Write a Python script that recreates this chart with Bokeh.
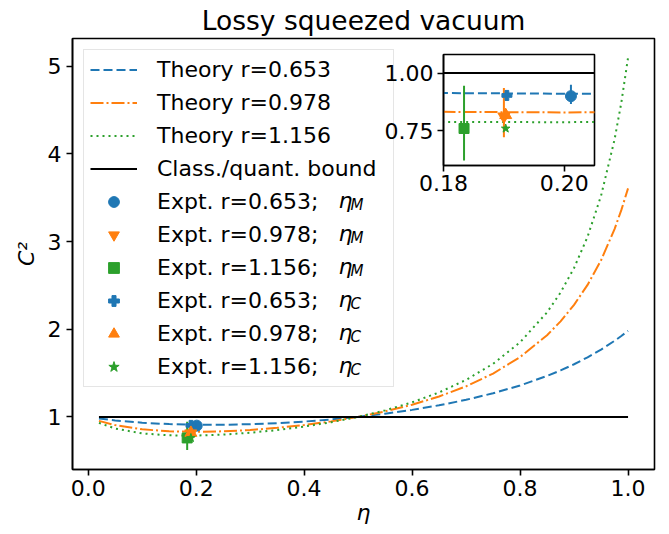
from bokeh.plotting import figure
from bokeh.models import (Legend, LegendItem, Label, FixedTicker, GridBox,
                          PrintfTickFormatter)
from bokeh.embed import file_html
from bokeh.resources import INLINE

# ---------------- data ----------------
eta = [0.02, 0.05, 0.10, 0.15, 0.20, 0.25, 0.30, 0.35, 0.40, 0.45, 0.50,
       0.55, 0.60, 0.65, 0.70, 0.75, 0.80, 0.85, 0.875, 0.90, 0.925, 0.95,
       0.975, 0.9875, 1.0]
theory_r0653 = [0.9819, 0.9596, 0.9333, 0.9176, 0.9104, 0.9103, 0.9166, 0.9288,
                0.9466, 0.9703, 1.0000, 1.0363, 1.0800, 1.1323, 1.1946, 1.2690,
                1.3584, 1.4670, 1.5301, 1.6004, 1.6790, 1.7674, 1.8673, 1.9223,
                1.9812]
theory_r0978 = [0.9546, 0.9060, 0.8581, 0.8356, 0.8295, 0.8353, 0.8507, 0.8748,
                0.9074, 0.9488, 1.0000, 1.0626, 1.1389, 1.2325, 1.3484, 1.4943,
                1.6821, 1.9316, 2.0893, 2.2773, 2.5049, 2.7861, 3.1419, 3.3576,
                3.6062]
theory_r1156 = [0.9322, 0.8673, 0.8114, 0.7896, 0.7873, 0.7981, 0.8193, 0.8498,
                0.8895, 0.9391, 1.0000, 1.0744, 1.1657, 1.2789, 1.4216, 1.6057,
                1.8509, 2.1922, 2.4179, 2.6977, 3.0537, 3.5214, 4.1630, 4.5822,
                5.0968]
bound_eta = [0.02, 1.0]
bound_C2 = [1.0, 1.0]

r_labels = ["0.653", "0.978", "1.156"]

# experimental points, efficiency eta_M
expt_eta_M = [0.2011, 0.1900, 0.1834]
expt_C2_M = [0.900, 0.812, 0.760]
expt_lo_M = [0.866, 0.722, 0.622]
expt_hi_M = [0.949, 0.935, 0.945]
# experimental points, efficiency eta_C
expt_eta_C = [0.1905, 0.1903, 0.1903]
expt_C2_C = [0.903, 0.818, 0.760]

x_ticks = [0.0, 0.2, 0.4, 0.6, 0.8, 1.0]
y_ticks = [1, 2, 3, 4, 5]
inset_x_ticks = [0.18, 0.20]
inset_y_ticks = [0.75, 1.00]

# ---------------- styles ----------------
FONT = "DejaVu Sans"
colors = ["#1f77b4", "#ff7f0e", "#2ca02c"]
dashes = ["9 4", "13 3 2 3", "2 4"]
theory = [theory_r0653, theory_r0978, theory_r1156]
markers_M = ["circle", "inverted_triangle", "square"]
sizes_M = [11, 12, 10]
markers_C = ["plus", "triangle", "star"]
sizes_C = [10, 12, 9]


def style(fig, tick_standoff):
    fig.xgrid.visible = False
    fig.ygrid.visible = False
    fig.outline_line_color = "black"
    fig.outline_line_width = 1.6
    fig.outline_line_alpha = 1.0
    for ax in fig.axis:
        ax.axis_line_color = "black"
        ax.axis_line_width = 1.6
        ax.major_tick_line_color = "black"
        ax.major_tick_line_width = 1.6
        ax.major_tick_out = 6
        ax.major_tick_in = 0
        ax.minor_tick_line_color = None
        ax.major_label_text_font = FONT
        ax.major_label_text_font_size = "22px"
        ax.major_label_text_color = "black"
        ax.major_label_standoff = tick_standoff
        ax.axis_label_text_color = "black"


def draw(fig):
    lines = []
    for vals, c, d in zip(theory, colors, dashes):
        lines.append(fig.line(eta, vals, line_color=c, line_width=2, line_dash=d))
    bound = fig.line(bound_eta, bound_C2, line_color="black", line_width=2)
    fig.segment(x0=expt_eta_M, y0=expt_lo_M, x1=expt_eta_M, y1=expt_hi_M,
                line_color=colors, line_width=2)
    sm, sc = [], []
    for i in range(3):
        sm.append(fig.scatter([expt_eta_M[i]], [expt_C2_M[i]], marker=markers_M[i],
                              size=sizes_M[i], fill_color=colors[i], line_color=colors[i]))
    for i in range(3):
        sc.append(fig.scatter([expt_eta_C[i]], [expt_C2_C[i]], marker=markers_C[i],
                              size=sizes_C[i], fill_color=colors[i], line_color=colors[i]))
    return lines, bound, sm, sc


# ---------------- main figure ----------------
W, H = 669, 534
MB_L, MB_R, MB_T, MB_B = 72, 15, 37, 65
p = figure(width=W, height=H, x_range=(-0.029, 1.049), y_range=(0.40, 5.315),
           output_backend="svg", toolbar_location=None,
           min_border_left=MB_L, min_border_right=MB_R,
           min_border_top=MB_T, min_border_bottom=MB_B,
           background_fill_color="white", border_fill_color="white",
           title="Lossy squeezed vacuum")
p.title.text_font = FONT
p.title.text_font_size = "26.5px"
p.title.text_font_style = "normal"
p.title.text_color = "black"
p.title.align = "center"
p.title.standoff = 5
style(p, 4)
p.xaxis.ticker = FixedTicker(ticks=x_ticks)
p.xaxis.formatter = PrintfTickFormatter(format="%.1f")
p.yaxis.ticker = FixedTicker(ticks=y_ticks)
p.yaxis.major_label_standoff = 5
p.xaxis.axis_label = "η"
p.xaxis.axis_label_text_font = FONT
p.xaxis.axis_label_text_font_size = "22px"
p.xaxis.axis_label_text_font_style = "italic"
p.xaxis.axis_label_standoff = 1
p.yaxis.axis_label = "C²"
p.yaxis.axis_label_text_font = FONT
p.yaxis.axis_label_text_font_size = "22px"
p.yaxis.axis_label_text_font_style = "italic"
p.yaxis.axis_label_standoff = 6

lines, bound, sm, sc = draw(p)

items = []
for i in range(3):
    items.append(LegendItem(label="Theory r=" + r_labels[i], renderers=[lines[i]]))
items.append(LegendItem(label="Class./quant. bound", renderers=[bound]))
for i in range(3):
    items.append(LegendItem(label="Expt. r=" + r_labels[i] + ";", renderers=[sm[i]]))
for i in range(3):
    items.append(LegendItem(label="Expt. r=" + r_labels[i] + ";", renderers=[sc[i]]))

LG_MARGIN, LG_PAD, ROW_H, LG_SP = 11, 6, 27, 6
legend = Legend(items=items, location="top_left", margin=LG_MARGIN, padding=LG_PAD,
                spacing=LG_SP, glyph_width=47, glyph_height=ROW_H, label_height=ROW_H,
                label_width=230, label_standoff=20,
                label_text_font=FONT, label_text_font_size="22px",
                label_text_color="black",
                border_line_color="#cccccc", border_line_width=1,
                background_fill_color="white", background_fill_alpha=0.0)
p.add_layout(legend)

frame_h = H - MB_T - MB_B

# math part of the experimental legend labels: eta with subscript
subs = ["M", "M", "M", "C", "C", "C"]
for k, s in enumerate(subs):
    row = 4 + k
    yc = frame_h - (LG_MARGIN + LG_PAD + ROW_H / 2 + row * (ROW_H + LG_SP))
    p.add_layout(Label(x=266, y=yc, x_units="screen", y_units="screen", text="η",
                       text_font=FONT, text_font_size="22px", text_font_style="italic",
                       text_baseline="middle", text_align="left", text_color="black",
                       level="overlay"))
    p.add_layout(Label(x=278, y=yc - 5, x_units="screen", y_units="screen", text=s,
                       text_font=FONT, text_font_size="15px", text_font_style="italic",
                       text_baseline="middle", text_align="left", text_color="black",
                       level="overlay"))

# ---------------- inset ----------------
IB_L, IB_R, IB_T, IB_B = 66, 8, 10, 42
IW, IH = IB_L + 151 + IB_R, IB_T + 111 + IB_B
inset = figure(width=IW, height=IH,
               x_range=(0.18, 0.205), y_range=(0.6, 1.08),
               output_backend="svg", toolbar_location=None,
               min_border_left=IB_L, min_border_right=IB_R,
               min_border_top=IB_T, min_border_bottom=IB_B,
               background_fill_color="white", border_fill_alpha=0.0)
style(inset, 3)
inset.yaxis.major_label_standoff = 4
inset.xaxis.ticker = FixedTicker(ticks=inset_x_ticks)
inset.yaxis.ticker = FixedTicker(ticks=inset_y_ticks)
inset.xaxis.formatter = PrintfTickFormatter(format="%.2f")
inset.yaxis.formatter = PrintfTickFormatter(format="%.2f")
draw(inset)

# place the inset over the main figure with fixed grid tracks
IX, IY = 377, 44
cols = [f"{IX}px", f"{IW}px", f"{W - IX - IW}px"]
rows = [f"{IY}px", f"{IH}px", f"{H - IY - IH}px"]
root = GridBox(children=[(p, 0, 0, 3, 3), (inset, 1, 1)], rows=rows, cols=cols)

open("out.html", "w").write(file_html(root, INLINE))
